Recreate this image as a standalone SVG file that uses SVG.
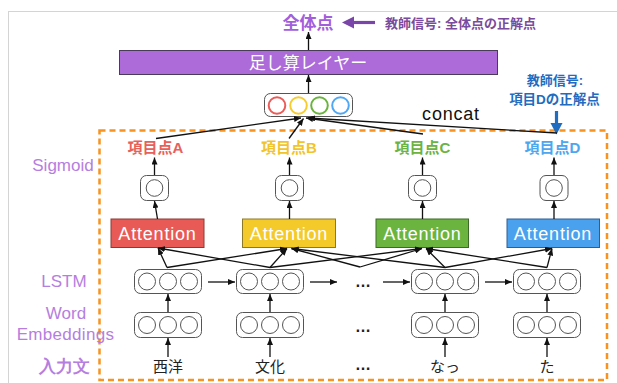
<svg xmlns="http://www.w3.org/2000/svg" width="617" height="383" viewBox="0 0 617 383">
<defs>
<marker id="ah" markerUnits="userSpaceOnUse" markerWidth="8" markerHeight="6" refX="7" refY="3" orient="auto"><path d="M0,0 L7,3 L0,6 z" fill="#111"/></marker>
<style>
.ln{stroke:#111;stroke-width:1.3;fill:none;marker-end:url(#ah)}
.vec{fill:#fff;stroke:#555;stroke-width:1}
.c{fill:none;stroke:#555;stroke-width:1}
.att{stroke-width:1}
.attt{font-family:"Liberation Sans",Arial,sans-serif;font-size:18px;fill:#fff;text-anchor:middle;letter-spacing:0.8px}
.side{font-family:"Liberation Sans",Arial,sans-serif;font-size:17px;fill:#b57edf;text-anchor:middle}
.lab{font-family:"Liberation Sans","Noto Sans CJK JP",sans-serif;font-size:15px;font-weight:bold;text-anchor:middle}
.jp{font-family:"Noto Sans CJK JP",sans-serif;font-size:15px;fill:#222;text-anchor:middle}
.dots{font-family:"Liberation Sans",sans-serif;font-size:16px;font-weight:bold;fill:#222;text-anchor:middle}
</style>
</defs>
<rect x="8.5" y="11.5" width="620" height="380" fill="#fff" stroke="#d4d4d4" stroke-width="1"/>

<g id="frame">
<rect x="99.5" y="130.5" width="507.5" height="249.5" fill="none" stroke="#f7931e" stroke-width="2.5" stroke-dasharray="6,4"/>
</g>

<g id="side-labels">
<text class="side" x="63" y="171">Sigmoid</text>
<text class="side" x="64" y="287">LSTM</text>
<text class="side" x="66" y="318.5">Word</text>
<text class="side" x="65.5" y="339.5" letter-spacing="0.3">Embeddings</text>
<text class="side" x="64" y="372" font-family="Noto Sans CJK JP,sans-serif" font-size="15" font-weight="bold">入力文</text>
</g>

<g id="total">
<text x="308" y="28.5" font-family="Noto Sans CJK JP,sans-serif" font-size="17" font-weight="bold" fill="#a35fdb" text-anchor="middle">全体点</text>
</g>
<g id="teacher-total">
<path d="M375,22.5 H352" stroke="#7a45a8" stroke-width="3.2" fill="none"/>
<path d="M342,22.5 L354,16.5 L354,28.5 z" fill="#7a45a8"/>
<text x="385" y="27.5" font-family="Liberation Sans,Noto Sans CJK JP,sans-serif" font-size="13" font-weight="bold" fill="#7a4a9c">教師信号: 全体点の正解点</text>
</g>

<g id="sum-layer">
<rect x="119.5" y="50.5" width="378" height="24" fill="#ac6bd9" stroke="#4b3b5b" stroke-width="1"/>
<text x="308" y="68.5" font-family="Noto Sans CJK JP,sans-serif" font-size="17" fill="#fff" text-anchor="middle">足し算レイヤー</text>
</g>

<g id="concat">
<rect x="264.5" y="93.5" width="88" height="23" rx="6" fill="#fff" stroke="#555" stroke-width="1"/>
<circle cx="277" cy="105.5" r="8.3" fill="none" stroke="#ec5b57" stroke-width="2"/>
<circle cx="298.5" cy="105.5" r="8.3" fill="none" stroke="#f7cd2e" stroke-width="2"/>
<circle cx="319.5" cy="105.5" r="8.3" fill="none" stroke="#6ab43e" stroke-width="2"/>
<circle cx="340.5" cy="105.5" r="8.3" fill="none" stroke="#4ea8f5" stroke-width="2"/>
<text x="451" y="119.5" font-family="Liberation Sans,Arial,sans-serif" font-size="18" fill="#111" text-anchor="middle" letter-spacing="0.8">concat</text>
</g>

<g id="teacher-D">
<text x="555" y="84.5" font-family="Liberation Sans,Noto Sans CJK JP,sans-serif" font-size="13" font-weight="bold" fill="#1f6cc0" text-anchor="middle">教師信号:</text>
<text x="554.5" y="104" font-family="Liberation Sans,Noto Sans CJK JP,sans-serif" font-size="13.5" font-weight="bold" fill="#1f6cc0" text-anchor="middle">項目Dの正解点</text>
<path d="M556.5,111 V124" stroke="#1f6cc0" stroke-width="3.2" fill="none"/>
<path d="M550.5,123 L562.5,123 L556.5,134.5 z" fill="#1f6cc0"/>
</g>

<!-- item labels -->
<g id="label-A"><text class="lab" x="155.5" y="152.5" fill="#e8605a">項目点A</text></g>
<g id="label-B"><text class="lab" x="289" y="152.5" fill="#f2c42c">項目点B</text></g>
<g id="label-C"><text class="lab" x="422.5" y="152.5" fill="#6cb33f">項目点C</text></g>
<g id="label-D"><text class="lab" x="552.5" y="152.5" fill="#4ea6ef">項目点D</text></g>

<!-- sigmoid units -->
<g id="sig-A"><rect class="vec" x="140.5" y="175.5" width="28" height="25" rx="6"/><circle class="c" cx="154.5" cy="188" r="8.3"/></g>
<g id="sig-B"><rect class="vec" x="275.5" y="175.5" width="28" height="25" rx="6"/><circle class="c" cx="289.5" cy="188" r="8.3"/></g>
<g id="sig-C"><rect class="vec" x="408.5" y="175.5" width="28" height="25" rx="6"/><circle class="c" cx="422.5" cy="188" r="8.3"/></g>
<g id="sig-D"><rect class="vec" x="540" y="175.5" width="28" height="25" rx="6"/><circle class="c" cx="554" cy="188" r="8.3"/></g>

<!-- attention -->
<g id="att-A"><rect class="att" x="111" y="219" width="93" height="28.5" fill="#e85a55" stroke="#8a3a36"/><text class="attt" x="157.5" y="240">Attention</text></g>
<g id="att-B"><rect class="att" x="242.5" y="219" width="93" height="28.5" fill="#f4ca2a" stroke="#8c7a2a"/><text class="attt" x="289" y="240">Attention</text></g>
<g id="att-C"><rect class="att" x="376" y="219" width="92.5" height="28.5" fill="#6bb43f" stroke="#3d6a28"/><text class="attt" x="422.5" y="240">Attention</text></g>
<g id="att-D"><rect class="att" x="507" y="219" width="92.5" height="28.5" fill="#4aa2ee" stroke="#2f5f8f"/><text class="attt" x="553" y="240">Attention</text></g>

<!-- LSTM -->
<g id="lstm-1"><rect class="vec" x="134.5" y="269.5" width="67" height="24" rx="6"/><circle class="c" cx="147" cy="281.5" r="8.5"/><circle class="c" cx="168" cy="281.5" r="8.5"/><circle class="c" cx="189" cy="281.5" r="8.5"/></g>
<g id="lstm-2"><rect class="vec" x="236.5" y="269.5" width="67" height="24" rx="6"/><circle class="c" cx="249" cy="281.5" r="8.5"/><circle class="c" cx="270" cy="281.5" r="8.5"/><circle class="c" cx="291" cy="281.5" r="8.5"/></g>
<g id="lstm-3"><rect class="vec" x="411.5" y="269.5" width="67" height="24" rx="6"/><circle class="c" cx="424" cy="281.5" r="8.5"/><circle class="c" cx="445" cy="281.5" r="8.5"/><circle class="c" cx="466" cy="281.5" r="8.5"/></g>
<g id="lstm-4"><rect class="vec" x="513.5" y="269.5" width="67" height="24" rx="6"/><circle class="c" cx="526" cy="281.5" r="8.5"/><circle class="c" cx="547" cy="281.5" r="8.5"/><circle class="c" cx="568" cy="281.5" r="8.5"/></g>

<!-- embeddings -->
<g id="emb-1"><rect class="vec" x="134.5" y="312.5" width="67" height="25" rx="6"/><circle class="c" cx="147" cy="325" r="8.5"/><circle class="c" cx="168" cy="325" r="8.5"/><circle class="c" cx="189" cy="325" r="8.5"/></g>
<g id="emb-2"><rect class="vec" x="236.5" y="312.5" width="67" height="25" rx="6"/><circle class="c" cx="249" cy="325" r="8.5"/><circle class="c" cx="270" cy="325" r="8.5"/><circle class="c" cx="291" cy="325" r="8.5"/></g>
<g id="emb-3"><rect class="vec" x="411.5" y="312.5" width="67" height="25" rx="6"/><circle class="c" cx="424" cy="325" r="8.5"/><circle class="c" cx="445" cy="325" r="8.5"/><circle class="c" cx="466" cy="325" r="8.5"/></g>
<g id="emb-4"><rect class="vec" x="513.5" y="312.5" width="67" height="25" rx="6"/><circle class="c" cx="526" cy="325" r="8.5"/><circle class="c" cx="547" cy="325" r="8.5"/><circle class="c" cx="568" cy="325" r="8.5"/></g>

<!-- inputs and ellipses -->
<g id="inputs">
<text class="jp" x="168" y="372">西洋</text>
<text class="jp" x="270" y="372">文化</text>
<text class="jp" x="445" y="372">なっ</text>
<text class="jp" x="547" y="372">た</text>
<text class="dots" x="363" y="287">…</text>
<text class="dots" x="363" y="332">…</text>
<text class="dots" x="363" y="370">…</text>
</g>

<g id="connectors">
<!-- inputs to embeddings -->
<line class="ln" x1="168" y1="357" x2="168" y2="338"/>
<line class="ln" x1="270" y1="357" x2="270" y2="338"/>
<line class="ln" x1="445" y1="357" x2="445" y2="338"/>
<line class="ln" x1="547" y1="357" x2="547" y2="338"/>
<!-- embeddings to LSTM -->
<line class="ln" x1="168" y1="312" x2="168" y2="294"/>
<line class="ln" x1="270" y1="312" x2="270" y2="294"/>
<line class="ln" x1="445" y1="312" x2="445" y2="294"/>
<line class="ln" x1="547" y1="312" x2="547" y2="294"/>
<!-- LSTM horizontal -->
<line class="ln" x1="208" y1="282" x2="235" y2="282"/>
<line class="ln" x1="310" y1="282" x2="337" y2="282"/>
<line class="ln" x1="383" y1="282" x2="410" y2="282"/>
<line class="ln" x1="485" y1="282" x2="512" y2="282"/>
<!-- LSTM to attention -->
<line class="ln" x1="167" y1="267.5" x2="158" y2="248"/>
<line class="ln" x1="270" y1="267.5" x2="158" y2="248"/>
<line class="ln" x1="167" y1="267.5" x2="287" y2="248.5"/>
<line class="ln" x1="270" y1="267.5" x2="287" y2="248.5"/>
<line class="ln" x1="360" y1="267" x2="291.5" y2="248.5"/>
<line class="ln" x1="445" y1="267.5" x2="291.5" y2="248.5"/>
<line class="ln" x1="270" y1="267.5" x2="422" y2="248.5"/>
<line class="ln" x1="360" y1="267" x2="422" y2="248.5"/>
<line class="ln" x1="445" y1="267.5" x2="426" y2="248.5"/>
<line class="ln" x1="547" y1="267.5" x2="426" y2="248.5"/>
<line class="ln" x1="445" y1="267.5" x2="552" y2="248.5"/>
<line class="ln" x1="547" y1="267.5" x2="552" y2="248.5"/>
<!-- attention to sigmoid -->
<line class="ln" x1="157.5" y1="219" x2="154.5" y2="201"/>
<line class="ln" x1="289.5" y1="219" x2="289.5" y2="201"/>
<line class="ln" x1="422.5" y1="219" x2="422.5" y2="201"/>
<line class="ln" x1="554" y1="219" x2="554" y2="201"/>
<!-- sigmoid to labels -->
<line class="ln" x1="154.5" y1="175" x2="154.5" y2="157.5"/>
<line class="ln" x1="289.5" y1="175" x2="289.5" y2="157.5"/>
<line class="ln" x1="422.5" y1="175" x2="422.5" y2="157.5"/>
<line class="ln" x1="554" y1="175" x2="554" y2="157.5"/>
<!-- labels to concat -->
<line class="ln" x1="156" y1="138.5" x2="301" y2="118"/>
<line class="ln" x1="289" y1="138.5" x2="303.5" y2="118.5"/>
<line class="ln" x1="423" y1="134" x2="306" y2="118"/>
<line class="ln" x1="557" y1="133" x2="308" y2="118"/>
<!-- concat to sum, sum to total -->
<line class="ln" x1="308.5" y1="93" x2="308.5" y2="75"/>
<line class="ln" x1="308.5" y1="50" x2="308.5" y2="32"/>
</g>
</svg>
